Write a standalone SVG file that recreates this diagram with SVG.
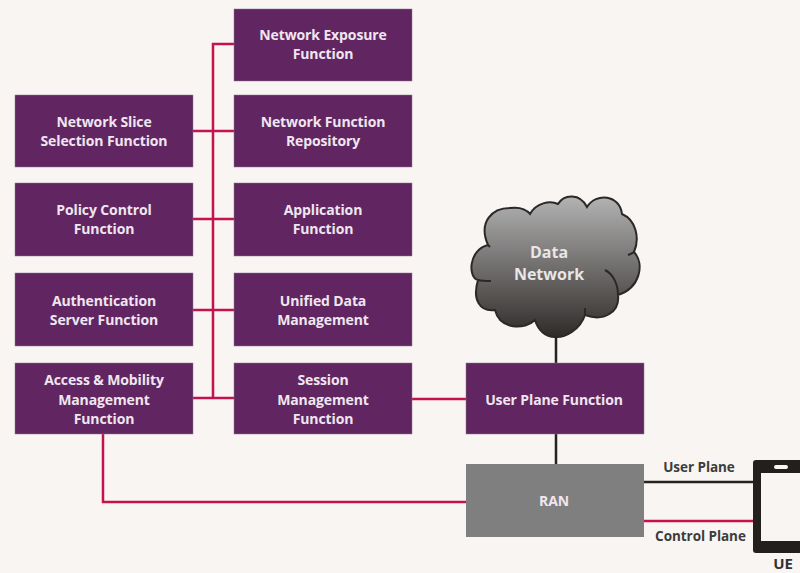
<svg xmlns="http://www.w3.org/2000/svg" width="800" height="573" viewBox="0 0 800 573">
<style>
.n{fill:#612562;stroke:#8d7a90;stroke-width:.5}
.t{font-family:"Open Sans","Liberation Sans",sans-serif;font-weight:700;font-size:14px;letter-spacing:-.12px;fill:#efe6ef;text-anchor:middle}
.l{font-family:"Open Sans","Liberation Sans",sans-serif;font-weight:700;font-size:13.5px;letter-spacing:-.05px;fill:#3c3c3c;text-anchor:middle}
.c{font-family:"Open Sans","Liberation Sans",sans-serif;font-weight:700;font-size:16px;fill:#e8e6e6;text-anchor:middle}
.r{fill:none;stroke:#c4114f;stroke-width:2.5}
.k{fill:none;stroke:#262220;stroke-width:2.5}
</style>
<defs><linearGradient id="cg" x1="0" y1="0" x2="0" y2="1"><stop offset="0" stop-color="#b3b3b3"/><stop offset="1" stop-color="#2f2b29"/></linearGradient></defs>
<rect width="800" height="573" fill="#f8f5f3"/>
<g id="connectors">
<path class="r" d="M234 44H213V398M193 131H234M193 219H234M193 310H234M193 398H234"/>
<path class="r" d="M412 399H466"/>
<path class="r" d="M103 434V502H466"/>
<path class="r" d="M643 521H754"/>
<path class="k" d="M556 336V363M556 434V464M643 482H754"/>
</g>
<g id="nef"><rect class="n" x="234" y="9" width="178" height="72"/><text class="t" x="323" y="40">Network Exposure</text><text class="t" x="323" y="59">Function</text></g>
<g id="nssf"><rect class="n" x="15" y="95" width="178" height="72"/><text class="t" x="104" y="127">Network Slice</text><text class="t" x="104" y="146">Selection Function</text></g>
<g id="nrf"><rect class="n" x="234" y="95" width="178" height="72"/><text class="t" x="323" y="127">Network Function</text><text class="t" x="323" y="146">Repository</text></g>
<g id="pcf"><rect class="n" x="15" y="183" width="178" height="73"/><text class="t" x="104" y="215">Policy Control</text><text class="t" x="104" y="234">Function</text></g>
<g id="af"><rect class="n" x="234" y="183" width="178" height="73"/><text class="t" x="323" y="215">Application</text><text class="t" x="323" y="234">Function</text></g>
<g id="ausf"><rect class="n" x="15" y="273" width="178" height="73"/><text class="t" x="104" y="306">Authentication</text><text class="t" x="104" y="325">Server Function</text></g>
<g id="udm"><rect class="n" x="234" y="273" width="178" height="73"/><text class="t" x="323" y="306">Unified Data</text><text class="t" x="323" y="325">Management</text></g>
<g id="amf"><rect class="n" x="15" y="363" width="178" height="71"/><text class="t" x="104" y="385">Access &amp; Mobility</text><text class="t" x="104" y="405">Management</text><text class="t" x="104" y="424">Function</text></g>
<g id="smf"><rect class="n" x="234" y="363" width="178" height="71"/><text class="t" x="323" y="385">Session</text><text class="t" x="323" y="405">Management</text><text class="t" x="323" y="424">Function</text></g>
<g id="upf"><rect class="n" x="466" y="363" width="178" height="71"/><text class="t" x="554" y="405">User Plane Function</text></g>
<g id="ran"><rect x="466" y="464" width="178" height="73" fill="#7f7f7f"/><text class="t" x="554" y="506">RAN</text></g>
<g id="data-network">
<path fill="url(#cg)" stroke="#2b2826" stroke-width="2" d="M488 245C478 222 492 208 510 208C518 207 526 209 530 214C536 203 550 200 558 204C564 194 580 193 587 207C596 192 620 195 622 214C636 220 640 238 634 252C645 264 640 288 618 295C620 312 604 322 585 315C580 330 565 338 555 337C545 337 538 330 535 320C525 330 500 330 495 310C480 312 472 300 478 280C468 278 468 250 488 245Z"/>
<path fill="none" stroke="#2b2826" stroke-width="2" d="M605 270C613 274 618 284 618 295M478 280C482 281 486 281 491 281M488 245L490 247M634 252C632 254 630 254 628 255M585 315C585 312 585 310 585 308"/>
<text class="c" x="549" y="258">Data</text>
<text class="c" x="549" y="280">Network</text>
</g>
<g id="ue">
<rect x="753" y="460" width="60" height="93" rx="3" fill="#231f1c"/>
<rect x="761" y="473" width="45" height="68" fill="#f8f5f3"/>
<rect x="774" y="465" width="14" height="4" rx="2" fill="#f8f5f3"/>
<text x="783" y="568.5" text-anchor="middle" font-family="'Open Sans','Liberation Sans',sans-serif" font-weight="700" font-size="15" fill="#333">UE</text>
</g>
<text class="l" x="699" y="472">User Plane</text>
<text class="l" x="700.5" y="541">Control Plane</text>
</svg>
